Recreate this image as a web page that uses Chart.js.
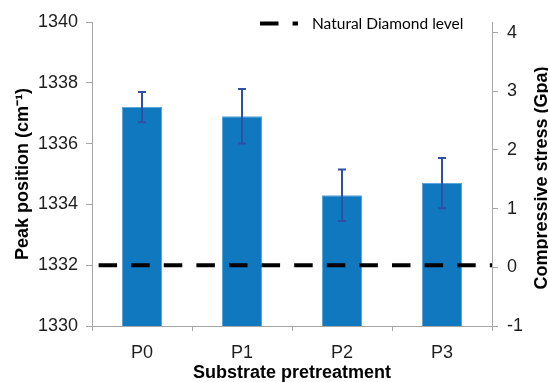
<!DOCTYPE html>
<html lang="en">
<head>
<meta charset="utf-8">
<title>Peak position</title>
<script src="https://cdn.jsdelivr.net/npm/chart.js@4.4.1/dist/chart.umd.min.js"></script>
<style>
    html, body { margin: 0; padding: 0; background: #ffffff; }
    #grafico-box { width: 548px; height: 382px; position: relative; }
</style>
</head>
<body>
<div id="grafico-box"><canvas id="picoChart"></canvas></div>
<script>
// Dados
const categorias = ['P0', 'P1', 'P2', 'P3'];
const posicaoPico = [1337.2, 1336.9, 1334.3, 1334.7];
const erroPico = [0.5, 0.9, 0.85, 0.83];
const nivelDiamante = 1332;
const extremosLinha = [-0.5, 3.5];
const ticksEsquerda = [1330, 1332, 1334, 1336, 1338, 1340];
const ticksDireita = [-1, 0, 1, 2, 3, 4];
const limitesDireita = [-1, 4.18];

const corEixo = '#a6a6a6';
const corTexto = '#1e1e1e';
const fonteTick = { family: '"Liberation Sans", Arial, sans-serif', size: 18 };
const fonteTitulo = { family: '"Liberation Sans", Arial, sans-serif', size: 18, weight: 'bold' };

// Barras de erro desenhadas sobre as barras
const barrasErro = {
    id: 'barrasErro',
    afterDatasetsDraw(chart) {
        const meta = chart.getDatasetMeta(0);
        const escala = chart.scales.y;
        const ctx = chart.ctx;
        ctx.save();
        ctx.strokeStyle = '#2f4ea6';
        ctx.lineWidth = 2;
        meta.data.forEach((barra, i) => {
            const topo = escala.getPixelForValue(posicaoPico[i] + erroPico[i]);
            const base = escala.getPixelForValue(posicaoPico[i] - erroPico[i]);
            ctx.beginPath();
            ctx.moveTo(barra.x, topo);
            ctx.lineTo(barra.x, base);
            ctx.moveTo(barra.x - 4, topo);
            ctx.lineTo(barra.x + 4, topo);
            ctx.moveTo(barra.x - 4, base);
            ctx.lineTo(barra.x + 4, base);
            ctx.stroke();
        });
        ctx.restore();
    }
};

// Legenda da linha tracejada e título do eixo direito (lido de baixo para cima)
const extras = {
    id: 'extras',
    afterDraw(chart) {
        const ctx = chart.ctx;
        const area = chart.chartArea;
        const linha = chart.data.datasets[1];
        const yLeg = area.top + 1.5;

        ctx.save();
        ctx.strokeStyle = linha.borderColor;
        ctx.lineWidth = linha.borderWidth;
        ctx.setLineDash(linha.borderDash);
        ctx.beginPath();
        ctx.moveTo(area.right - 232, yLeg);
        ctx.lineTo(area.right - 194, yLeg);
        ctx.stroke();
        ctx.setLineDash([]);

        ctx.fillStyle = '#000000';
        ctx.font = '15.5px Lato, "Open Sans", sans-serif';
        ctx.textBaseline = 'middle';
        ctx.textAlign = 'left';
        ctx.fillText(linha.label, area.right - 180, yLeg);

        ctx.translate(542, 178);
        ctx.rotate(-Math.PI / 2);
        ctx.font = 'bold 18px "Liberation Sans", Arial, sans-serif';
        ctx.textAlign = 'center';
        ctx.fillText('Compressive stress (Gpa)', 0, 0);
        ctx.restore();
    }
};

function inicializarGrafico() {
    const ctx = document.getElementById('picoChart').getContext('2d');

    new Chart(ctx, {
        type: 'bar',
        data: {
            labels: categorias,
            datasets: [{
                label: 'Peak position',
                data: posicaoPico,
                backgroundColor: '#1078bf',
                borderColor: '#5aa5da',
                borderWidth: 1,
                grouped: false,
                categoryPercentage: 1,
                barPercentage: 0.4,
                yAxisID: 'y',
                order: 2
            }, {
                type: 'line',
                label: 'Natural Diamond level',
                data: extremosLinha.map(x => ({ x: x, y: nivelDiamante })),
                xAxisID: 'xLinha',
                yAxisID: 'y',
                borderColor: '#000000',
                borderWidth: 4,
                borderDash: [18.5, 14.1],
                borderDashOffset: 26,
                pointRadius: 0,
                fill: false,
                order: 1
            }]
        },
        options: {
            responsive: true,
            maintainAspectRatio: false,
            animation: false,
            devicePixelRatio: 1,
            layout: { padding: { top: 22, left: 0, right: 0, bottom: 0 } },
            plugins: {
                legend: { display: false },
                tooltip: { enabled: false }
            },
            scales: {
                x: {
                    type: 'category',
                    offset: true,
                    grid: { offset: true, drawOnChartArea: false, tickLength: 5, color: corEixo },
                    border: { color: corEixo },
                    ticks: { font: fonteTick, color: corTexto, padding: 11 },
                    title: {
                        display: true,
                        text: 'Substrate pretreatment',
                        font: fonteTitulo,
                        color: '#000000',
                        padding: { top: 0, bottom: -2 }
                    },
                    afterFit(escala) { escala.height = 56; }
                },
                xLinha: {
                    type: 'linear',
                    display: false,
                    offset: false,
                    grid: { offset: false },
                    min: extremosLinha[0],
                    max: extremosLinha[1]
                },
                y: {
                    position: 'left',
                    min: ticksEsquerda[0],
                    max: ticksEsquerda[ticksEsquerda.length - 1],
                    afterBuildTicks(escala) { escala.ticks = ticksEsquerda.map(v => ({ value: v })); },
                    grid: { drawOnChartArea: false, tickLength: 6, color: corEixo },
                    border: { color: corEixo },
                    ticks: { font: fonteTick, color: corTexto, padding: 8, callback: v => String(v) },
                    title: {
                        display: true,
                        text: 'Peak position (cm⁻¹)',
                        font: fonteTitulo,
                        color: '#000000',
                        padding: { top: 12, bottom: 0 }
                    },
                    afterFit(escala) { escala.width = 92; }
                },
                y2: {
                    position: 'right',
                    min: limitesDireita[0],
                    max: limitesDireita[1],
                    afterBuildTicks(escala) { escala.ticks = ticksDireita.map(v => ({ value: v })); },
                    grid: { drawOnChartArea: false, tickLength: 6, color: corEixo },
                    border: { color: corEixo },
                    ticks: { font: fonteTick, color: corTexto, padding: 9, callback: v => String(v) },
                    afterFit(escala) { escala.width = 56; }
                }
            }
        },
        plugins: [barrasErro, extras]
    });
}

document.addEventListener('DOMContentLoaded', inicializarGrafico);
</script>
</body>
</html>
